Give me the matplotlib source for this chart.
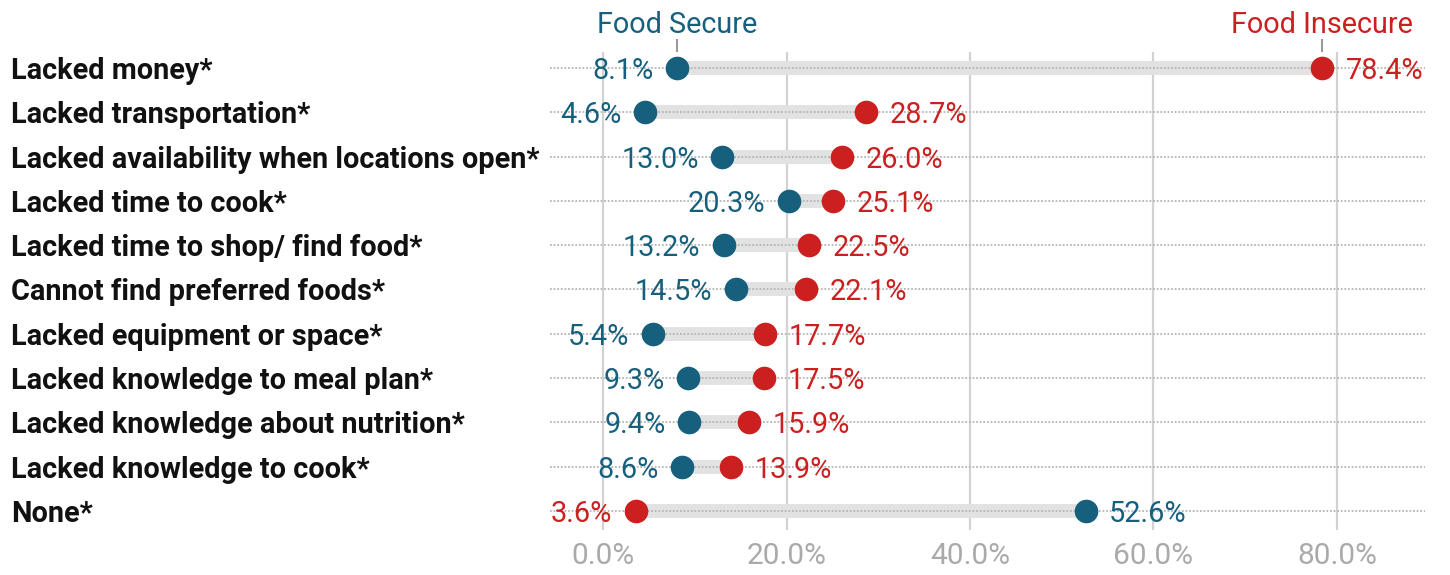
import matplotlib.pyplot as plt
from matplotlib.transforms import blended_transform_factory

categories = [
    "Lacked money*",
    "Lacked transportation*",
    "Lacked availability when locations open*",
    "Lacked time to cook*",
    "Lacked time to shop/ find food*",
    "Cannot find preferred foods*",
    "Lacked equipment or space*",
    "Lacked knowledge to meal plan*",
    "Lacked knowledge about nutrition*",
    "Lacked knowledge to cook*",
    "None*",
]
secure = [8.1, 4.6, 13.0, 20.3, 13.2, 14.5, 5.4, 9.3, 9.4, 8.6, 52.6]
insecure = [78.4, 28.7, 26.0, 25.1, 22.5, 22.1, 17.7, 17.5, 15.9, 13.9, 3.6]
xticks = [0, 20, 40, 60, 80]
xtick_labels = ["0.0%", "20.0%", "40.0%", "60.0%", "80.0%"]

BLUE = "#17607d"
RED = "#cc1f1f"

plt.rcParams['font.family'] = ['Roboto', 'DejaVu Sans']

fig = plt.figure(figsize=(14.5, 5.75), dpi=100)
ax = fig.add_axes([550 / 1450, 1 - 530 / 575, 875 / 1450, 478 / 575])
ax.set_xlim(-5.78, 89.6)
ax.set_ylim(10.43, -0.36)

# vertical grid
for t in xticks:
    ax.axvline(t, color="#d2d2d2", lw=1.6, zorder=1)

label_tf = blended_transform_factory(fig.transFigure, ax.transData)
for i, cat in enumerate(categories):
    s, f = secure[i], insecure[i]
    # dotted guide line
    ax.plot([-5.78, 89.6], [i, i], color="#b5b5b5", lw=1.3,
            linestyle=(0, (1, 1)), zorder=2)
    # background bar between the two points
    ax.plot([min(s, f), max(s, f)], [i, i], color="#e2e2e2", lw=10,
            solid_capstyle="butt", zorder=1.5)
    ax.plot(f, i, "o", color=RED, ms=17, mec="none", zorder=4)
    ax.plot(s, i, "o", color=BLUE, ms=17, mec="none", zorder=5)
    for v, c in ((s, BLUE), (f, RED)):
        low = v == min(s, f)
        ax.annotate(f"{v:.1f}%", (v, i), xytext=(-17 if low else 17, 0),
                    textcoords="offset points", ha="right" if low else "left",
                    va="center_baseline", color=c, fontsize=20.8, zorder=6)
    ax.text(11 / 1450, i, cat, transform=label_tf, ha="left",
            va="center_baseline", fontsize=20.8, fontweight="bold",
            color="#111111")

# series labels above first row
for v, name, c in ((secure[0], "Food Secure", BLUE), (insecure[0], "Food Insecure", RED)):
    ax.plot([v, v], [-0.62, -0.38], color="#9a9a9a", lw=1.5, clip_on=False)
    ax.text(v, -0.79, name, ha="center", va="baseline", color=c, fontsize=20.8,
            clip_on=False)

ax.set_xticks(xticks)
ax.set_xticklabels(xtick_labels)
ax.set_yticks([])
ax.tick_params(axis="x", length=0, pad=9, labelsize=21.5, labelcolor="#aaaaaa")
for sp in ax.spines.values():
    sp.set_visible(False)

fig.savefig("out.png", dpi=100)
